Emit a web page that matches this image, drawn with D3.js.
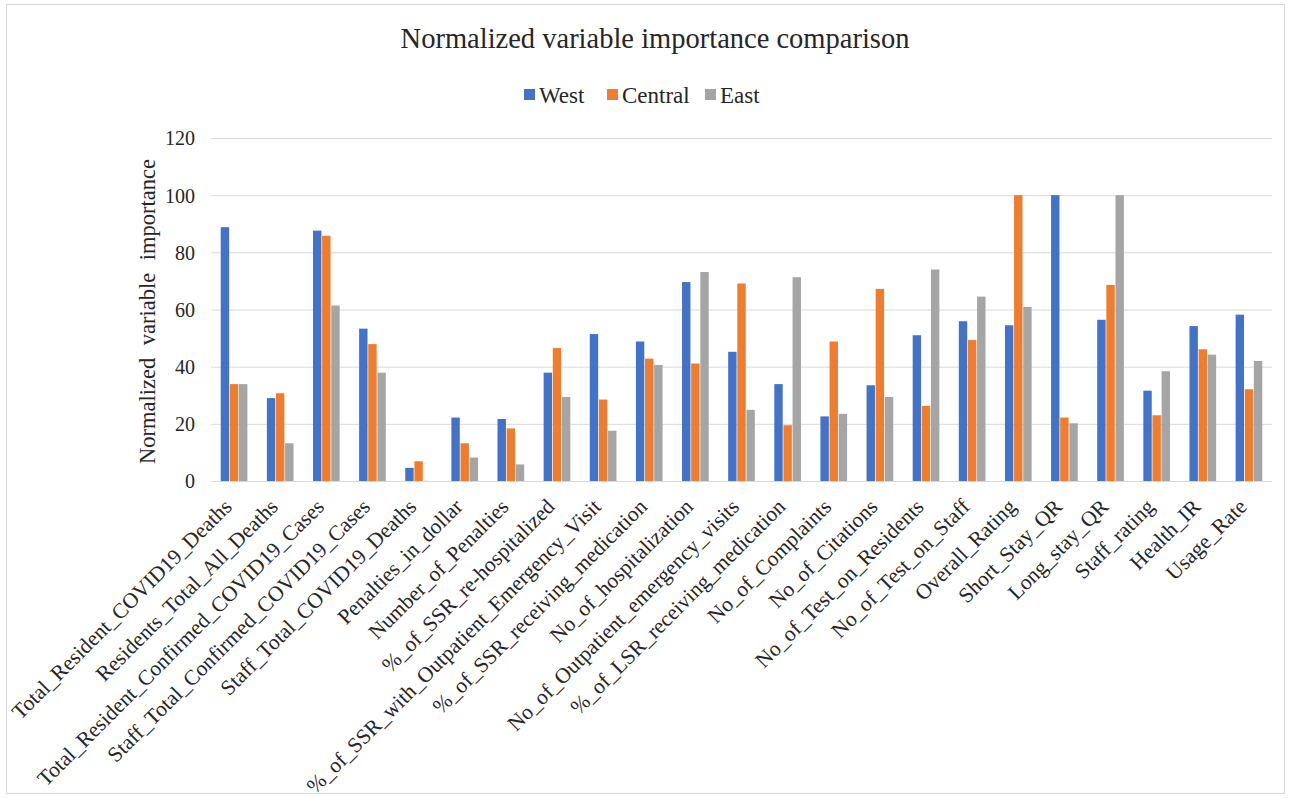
<!DOCTYPE html>
<html>
<head>
<meta charset="utf-8">
<script src="https://cdn.jsdelivr.net/npm/d3@7"></script>
<style>
  body { margin: 0; background: #fff; }
  text { font-family: "Liberation Serif", "Times New Roman", serif; fill: #262626; }
</style>
</head>
<body>
<div id="chart"></div>
<script>
const categories = [
    "Total_Resident_COVID19_Deaths", "Residents_Total_All_Deaths",
    "Total_Resident_Confirmed_COVID19_Cases", "Staff_Total_Confirmed_COVID19_Cases",
    "Staff_Total_COVID19_Deaths", "Penalties_in_dollar", "Number_of_Penalties",
    "%_of_SSR_re-hospitalized", "%_of_SSR_with_Outpatient_Emergency_Visit",
    "%_of_SSR_receiving_medication", "No_of_hospitalization",
    "No_of_Outpatient_emergency_visits", "%_of_LSR_receiving_medication",
    "No_of_Complaints", "No_of_Citations", "No_of_Test_on_Residents",
    "No_of_Test_on_Staff", "Overall_Rating", "Short_Stay_QR", "Long_stay_QR",
    "Staff_rating", "Health_IR", "Usage_Rate"
];
const series = ["West", "Central", "East"];
const west    = [88.8, 29.0, 87.6, 53.3, 4.6, 22.2, 21.7, 37.9, 51.4, 48.8, 69.6, 45.2, 33.9, 22.6, 33.5, 51.0, 55.9, 54.5, 100, 56.4, 31.6, 54.2, 58.2];
const central = [33.9, 30.7, 85.8, 47.9, 6.9, 13.2, 18.4, 46.5, 28.5, 42.8, 41.1, 69.1, 19.5, 48.8, 67.2, 26.3, 49.3, 100, 22.2, 68.6, 23.0, 46.1, 32.1];
const east    = [33.9, 13.2, 61.4, 37.9, 0, 8.2, 5.8, 29.4, 17.6, 40.6, 73.1, 24.9, 71.3, 23.5, 29.4, 74.0, 64.5, 60.9, 20.2, 100, 38.4, 44.2, 42.0];
const yTicks = [0, 20, 40, 60, 80, 100, 120];
const colors = ["#4472C4", "#ED7D31", "#A5A5A5"];

const W = 1295, H = 798;
const plot = { left: 211, right: 1272, top: 138, bottom: 481 };

const svg = d3.select("#chart").append("svg")
    .attr("width", W).attr("height", H);

svg.append("rect")
    .attr("x", 6.5).attr("y", 4.5).attr("width", 1278).attr("height", 789)
    .attr("fill", "#fff").attr("stroke", "#d9d9d9");

const data = categories.map((c, i) => ({ cat: c, values: [west[i], central[i], east[i]] }));

const x0 = d3.scaleBand().domain(categories).range([plot.left, plot.right]).paddingInner(0.39).paddingOuter(0.195);
const x1 = d3.scaleBand().domain(series).range([0, x0.bandwidth()]).padding(0.08);
const y = d3.scaleLinear().domain([0, 120]).range([plot.bottom, plot.top]);
const color = d3.scaleOrdinal().domain(series).range(colors);

// gridlines
svg.append("g")
    .selectAll("line")
    .data(yTicks)
    .enter().append("line")
    .attr("x1", plot.left).attr("x2", plot.right)
    .attr("y1", d => y(d) + 0.5).attr("y2", d => y(d) + 0.5)
    .attr("stroke", "#d9d9d9").attr("stroke-width", 1);

// y axis labels
const yAxis = svg.append("g")
    .attr("transform", `translate(${plot.left}, 0.5)`)
    .call(d3.axisLeft(y).tickValues(yTicks).tickSize(0).tickPadding(16));
yAxis.select(".domain").remove();
yAxis.selectAll("text")
    .style("font-family", "Liberation Serif, Times New Roman, serif")
    .style("font-size", "20px").attr("fill", "#404040");

// bars
svg.append("g")
    .selectAll("g")
    .data(data)
    .enter().append("g")
    .attr("transform", d => `translate(${x0(d.cat)},0)`)
    .selectAll("rect")
    .data(d => series.map((s, i) => ({ key: s, value: d.values[i] })))
    .enter().append("rect")
    .attr("x", d => x1(d.key))
    .attr("y", d => y(d.value))
    .attr("width", x1.bandwidth())
    .attr("height", d => y(0) - y(d.value))
    .attr("fill", d => color(d.key));

// x axis labels
const xAxis = svg.append("g")
    .attr("transform", `translate(0, ${plot.bottom})`)
    .call(d3.axisBottom(x0).tickSize(0).tickPadding(0));
xAxis.select(".domain").remove();
xAxis.selectAll("text")
    .style("font-family", "Liberation Serif, Times New Roman, serif")
    .style("font-size", "21.5px").attr("fill", "#262626")
    .attr("text-anchor", "end")
    .attr("dy", null).attr("y", 0)
    .attr("transform", "translate(-1, 27) rotate(-45)");

// title
svg.append("text")
    .attr("x", 655).attr("y", 48)
    .attr("text-anchor", "middle")
    .style("font-size", "28.5px")
    .text("Normalized variable importance comparison");

// y axis title
svg.append("text")
    .attr("transform", `translate(155, ${(plot.top + plot.bottom) / 2 + 2}) rotate(-90)`)
    .attr("text-anchor", "middle")
    .style("font-size", "22.5px")
    .style("word-spacing", "7px")
    .text("Normalized variable importance");

// legend
const legendX = [524, 607, 705];
const legend = svg.append("g").attr("transform", "translate(0, 95)");
legend.selectAll("rect")
    .data(series)
    .enter().append("rect")
    .attr("x", (d, i) => legendX[i]).attr("y", -6)
    .attr("width", 11).attr("height", 11)
    .attr("fill", color);
legend.selectAll("text")
    .data(series)
    .enter().append("text")
    .attr("x", (d, i) => legendX[i] + 15)
    .attr("y", 0).attr("dy", "0.35em")
    .style("font-size", "23px")
    .text(d => d);
</script>
</body>
</html>
